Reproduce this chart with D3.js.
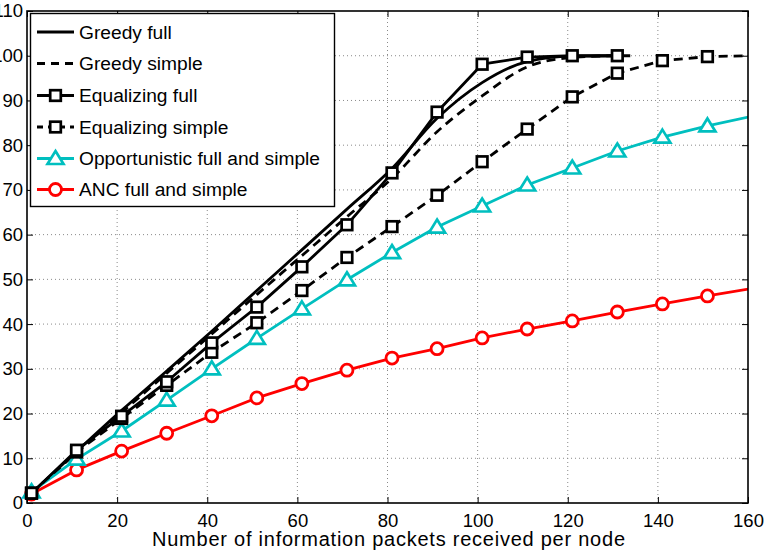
<!DOCTYPE html>
<html><head><meta charset="utf-8">
<script src="https://cdn.jsdelivr.net/npm/d3@7"></script>
<style>html,body{margin:0;padding:0;background:#fff;}svg{display:block;font-family:"Liberation Sans",Arial,Helvetica,sans-serif;}</style>
</head><body>
<script>
// ---- data ----
const xs = [1,11,21,31,41,51,61,71,81,91,101,111,121,131,141,151,161];
const greedyXs = [1,11,21,31,41,51,61,71,81,91,101,111,121,131];
const greedyFull   = [2.2,11.5,20.7,29.5,38.4,47.5,56.6,65.7,74.8,86.0,94.0,98.7,99.9,100];
const greedySimpleXs = [1,11,21,31,41,51,61,71,81,91,101,111,121,131,134];
const greedySimple = [2.2,11.3,20.2,29.0,37.8,46.6,55.3,64.0,72.6,83.0,91.0,97.5,99.6,100,100];
const equalFull    = [2.2,11.8,19.4,27.1,35.8,43.8,52.8,62.2,73.8,87.4,98.1,99.7,100,100];
const equalSimple  = [2.2,11.4,18.9,26.3,33.7,40.3,47.5,54.9,61.8,68.8,76.3,83.6,90.8,96.1,98.9,99.8,100];
const opportunistic= [2.5,9.8,16.1,23.0,30.0,36.8,43.4,49.9,56.0,61.7,66.4,71.1,74.9,78.7,81.8,84.3,86.5];
const anc          = [2.0,7.4,11.6,15.6,19.5,23.5,26.7,29.7,32.4,34.5,36.9,38.9,40.7,42.7,44.5,46.3,48.0];
const xTicks = [0,20,40,60,80,100,120,140,160];
const yTicks = [0,10,20,30,40,50,60,70,80,90,100,110];
const legendLabels = ["Greedy full","Greedy simple","Equalizing full","Equalizing simple","Opportunistic full and simple","ANC full and simple"];
const xLabel = "Number of information packets received per node";

const W = 767, H = 552;
const x = d3.scaleLinear().domain([0,160]).range([27,748]);
const y = d3.scaleLinear().domain([0,110]).range([503,11]);
const CYAN = "#00BFBF", RED = "#FF0000";

const svg = d3.select("body").append("svg").attr("width",W).attr("height",H);
svg.append("defs").append("clipPath").attr("id","plot").append("rect")
  .attr("x",x(0)).attr("y",y(110)).attr("width",x(160)-x(0)).attr("height",y(0)-y(110));

// grid
const grid = svg.append("g");
xTicks.slice(1,-1).forEach(t=>grid.append("line").attr("x1",x(t)).attr("x2",x(t)).attr("y1",y(0)).attr("y2",y(110))
  .attr("stroke","#8a8a8a").attr("stroke-width",1).attr("stroke-dasharray","1,3"));
yTicks.slice(1,-1).forEach(t=>grid.append("line").attr("x1",x(0)).attr("x2",x(160)).attr("y1",y(t)).attr("y2",y(t))
  .attr("stroke","#8a8a8a").attr("stroke-width",1).attr("stroke-dasharray","1,3"));

// axes (ticks inward)
const tl = 6;
svg.append("g").attr("transform",`translate(0,${y(0)})`)
  .call(d3.axisBottom(x).tickValues(xTicks).tickSizeInner(-tl).tickSizeOuter(0).tickPadding(11))
  .call(g=>{g.select(".domain").remove();g.selectAll("text").attr("font-size",18.5).attr("fill","#000").attr("font-family","Liberation Sans, Arial");g.selectAll("line").attr("stroke","#000");});
svg.append("g").attr("transform",`translate(0,${y(110)})`)
  .call(d3.axisTop(x).tickValues(xTicks).tickSizeInner(-tl).tickSizeOuter(0).tickFormat(""))
  .call(g=>{g.select(".domain").remove();g.selectAll("line").attr("stroke","#000");});
svg.append("g").attr("transform",`translate(${x(0)},0)`)
  .call(d3.axisLeft(y).tickValues(yTicks).tickSizeInner(-tl).tickSizeOuter(0).tickPadding(4))
  .call(g=>{g.select(".domain").remove();g.selectAll("text").attr("font-size",18.5).attr("fill","#000").attr("font-family","Liberation Sans, Arial");g.selectAll("line").attr("stroke","#000");});
svg.append("g").attr("transform",`translate(${x(160)},0)`)
  .call(d3.axisRight(y).tickValues(yTicks).tickSizeInner(-tl).tickSizeOuter(0).tickFormat(""))
  .call(g=>{g.select(".domain").remove();g.selectAll("line").attr("stroke","#000");});

// series
const plot = svg.append("g").attr("clip-path","url(#plot)");
function drawLine(xv, yv, color, dash, curve){
  const pts = yv.map((v,i)=>[xv[i],v]);
  plot.append("path").datum(pts)
    .attr("d", d3.line().x(d=>x(d[0])).y(d=>y(d[1])).curve(curve||d3.curveLinear))
    .attr("fill","none").attr("stroke",color).attr("stroke-width",2.8)
    .attr("stroke-dasharray",dash||null).attr("stroke-linejoin","round");
  return pts;
}
const sq = (g,cx,cy,color)=>g.append("rect").attr("x",cx-5.3).attr("y",cy-5.3).attr("width",10.6).attr("height",10.6)
  .attr("fill","#fff").attr("stroke",color).attr("stroke-width",2.7);
const tri = (g,cx,cy,color)=>g.append("path").attr("d",`M${cx},${cy-7.5}L${cx+8},${cy+5.5}L${cx-8},${cy+5.5}Z`)
  .attr("fill","#fff").attr("stroke",color).attr("stroke-width",2.7).attr("stroke-linejoin","miter");
const circ = (g,cx,cy,color)=>g.append("circle").attr("cx",cx).attr("cy",cy).attr("r",6)
  .attr("fill","#fff").attr("stroke",color).attr("stroke-width",2.8);
function drawMarkers(pts, fn, color){
  const g = svg.append("g");
  pts.filter(d=>d[0]<=160).forEach(d=>fn(g,x(d[0]),y(d[1]),color));
}

drawLine(greedySimpleXs, greedySimple, "#000", "9,6", d3.curveMonotoneX);
drawLine(greedyXs, greedyFull, "#000", null, d3.curveMonotoneX);
const ancPts = drawLine(xs, anc, RED);
const oppPts = drawLine(xs, opportunistic, CYAN);
const esPts = drawLine(xs, equalSimple, "#000", "9,6");
const efPts = drawLine(xs, equalFull, "#000");
drawMarkers(ancPts, circ, RED);
drawMarkers(oppPts, tri, CYAN);
drawMarkers(esPts, sq, "#000");
drawMarkers(efPts, sq, "#000");

// box
svg.append("rect").attr("x",x(0)).attr("y",y(110)).attr("width",x(160)-x(0)).attr("height",y(0)-y(110))
  .attr("fill","none").attr("stroke","#000").attr("stroke-width",1.6);

// x label
svg.append("text").attr("x",(x(0)+x(160))/2+1).attr("y",546).attr("text-anchor","middle")
  .attr("font-size",20).attr("textLength",473).attr("lengthAdjust","spacing").text(xLabel);

// legend
const lg = svg.append("g");
lg.append("rect").attr("x",30.5).attr("y",13.5).attr("width",304).attr("height",193)
  .attr("fill","#fff").attr("stroke","#000").attr("stroke-width",1.4);
const rows = [32,63.5,95.5,127,158.5,189.5];
const styles = [
  {c:"#000",dash:null,m:null},{c:"#000",dash:"8,6",m:null},
  {c:"#000",dash:null,m:sq},{c:"#000",dash:"6,5",m:sq},
  {c:CYAN,dash:null,m:tri},{c:RED,dash:null,m:circ}];
legendLabels.forEach((lab,i)=>{
  const s = styles[i], ry = rows[i];
  lg.append("line").attr("x1",37).attr("x2",74).attr("y1",ry).attr("y2",ry)
    .attr("stroke",s.c).attr("stroke-width",2.8).attr("stroke-dasharray",s.dash);
  if(s.m) s.m(lg,55.5,ry,s.c);
  lg.append("text").attr("x",79).attr("y",ry+6.8).attr("font-size",19.2).attr("fill","#000").text(lab);
});
</script>
</body></html>
